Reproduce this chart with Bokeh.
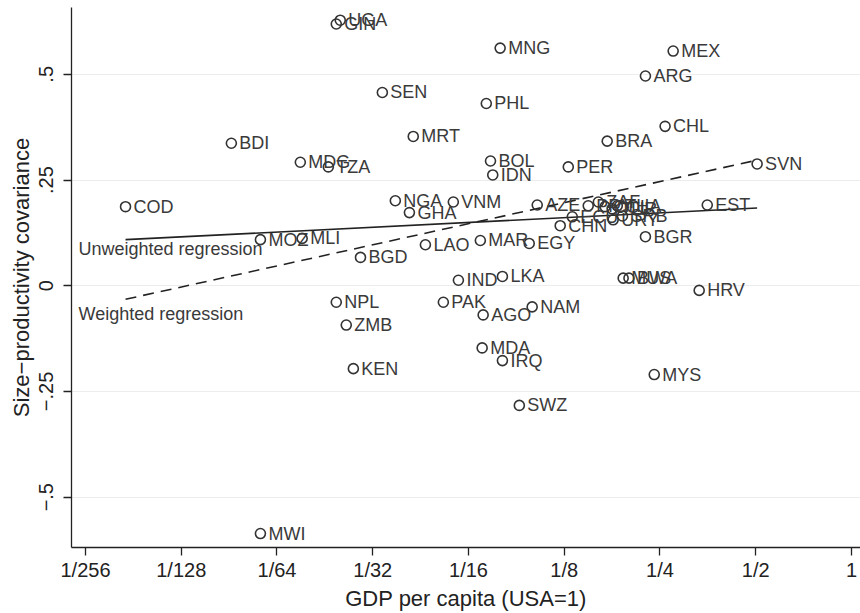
from bokeh.plotting import figure
from bokeh.models import FixedTicker, CustomJSTickFormatter, Label, ColumnDataSource, Range1d
from bokeh.core.properties import value
from bokeh.embed import file_html
from bokeh.resources import INLINE

codes = ["UGA", "GIN", "MNG", "MEX", "ARG", "SEN", "PHL", "CHL", "MRT", "BRA",
         "BDI", "MDG", "TZA", "BOL", "IDN", "PER", "SVN", "COD", "NGA", "VNM",
         "GHA", "AZE", "PRY", "ZAF", "COL", "TUR", "THA", "URY", "SRB", "ECU",
         "CHN", "EST", "MOZ", "MLI", "LAO", "MAR", "EGY", "BGR", "BGD", "IND",
         "LKA", "MUS", "BWA", "HRV", "NPL", "PAK", "NAM", "AGO", "ZMB", "MDA",
         "IRQ", "KEN", "MYS", "SWZ", "MWI"]
gdp = [0.0247, 0.0240, 0.0786, 0.275, 0.225, 0.0335, 0.0711, 0.2594, 0.0419, 0.1706,
       0.01123, 0.0185, 0.02266, 0.0733, 0.0745, 0.1287, 0.505, 0.00522, 0.0368, 0.0560,
       0.04075, 0.1028, 0.1487, 0.160, 0.168, 0.1768, 0.1835, 0.1781, 0.1905, 0.1325,
       0.1214, 0.352, 0.01386, 0.01875, 0.04575, 0.0681, 0.0970, 0.225, 0.0286, 0.0581,
       0.0799, 0.1915, 0.1997, 0.332, 0.0240, 0.0521, 0.0991, 0.0695, 0.0258, 0.0690,
       0.0799, 0.02716, 0.2398, 0.0903, 0.01386]
cov = [0.628, 0.619, 0.562, 0.555, 0.496, 0.457, 0.431, 0.377, 0.353, 0.342,
       0.337, 0.292, 0.281, 0.295, 0.262, 0.281, 0.288, 0.187, 0.201, 0.198,
       0.173, 0.191, 0.189, 0.198, 0.187, 0.182, 0.189, 0.156, 0.165, 0.163,
       0.142, 0.191, 0.109, 0.112, 0.097, 0.107, 0.100, 0.116, 0.067, 0.013,
       0.022, 0.018, 0.018, -0.011, -0.039, -0.039, -0.050, -0.069, -0.093, -0.147,
       -0.177, -0.196, -0.210, -0.283, -0.586]

# regression fitted values at the ends of the sample (COD, SVN)
reg_x = [0.00522, 0.505]
unweighted_y = [0.109, 0.184]
weighted_y = [-0.032, 0.297]

xtick_vals = [1/256, 1/128, 1/64, 1/32, 1/16, 1/8, 1/4, 1/2, 1]
xtick_labels = ["1/256", "1/128", "1/64", "1/32", "1/16", "1/8", "1/4", "1/2", "1"]
ytick_vals = [-0.5, -0.25, 0, 0.25, 0.5]
ytick_labels = ["\u2212.5", "\u2212.25", "0", ".25", ".5"]

FONT = "Liberation Sans"
TXT = "#3a3a3a"

p = figure(width=860, height=613, output_backend="svg", toolbar_location=None,
           x_axis_type="log",
           x_range=Range1d(2 ** -8.146, 2 ** 0.094),
           y_range=Range1d(-0.619, 0.658),
           min_border_left=71, min_border_right=0, min_border_top=7,
           min_border_bottom=62)
p.outline_line_color = None
p.background_fill_color = "white"
p.border_fill_color = "white"

p.xgrid.visible = False
p.ygrid.grid_line_color = "#ececec"
p.ygrid.grid_line_width = 1

fmt_code = """
let best = 0, bd = 1e9;
for (let i = 0; i < vals.length; i++) {
  const d = Math.abs(Math.log(vals[i] + 10) - Math.log(tick + 10));
  if (d < bd) { bd = d; best = i; }
}
return labs[best];
"""
p.xaxis.ticker = FixedTicker(ticks=xtick_vals, minor_ticks=[])
p.xaxis.formatter = CustomJSTickFormatter(args=dict(vals=xtick_vals, labs=xtick_labels), code=fmt_code)
p.yaxis.ticker = FixedTicker(ticks=ytick_vals, minor_ticks=[])
p.yaxis.formatter = CustomJSTickFormatter(args=dict(vals=ytick_vals, labs=ytick_labels), code=fmt_code)

for ax in (p.xaxis, p.yaxis):
    ax.axis_line_color = "#222222"
    ax.axis_line_width = 1.3
    ax.major_tick_line_color = "#222222"
    ax.major_tick_line_width = 1.3
    ax.major_tick_out = 8
    ax.major_tick_in = 0
    ax.minor_tick_out = 0
    ax.minor_tick_in = 0
    ax.major_label_text_font = FONT
    ax.major_label_text_font_size = "20px"
    ax.major_label_text_color = "#222222"
    ax.axis_label_text_font = FONT
    ax.axis_label_text_font_size = "22px"
    ax.axis_label_text_font_style = "normal"
    ax.axis_label_text_color = "#222222"

p.xaxis.axis_label = "GDP per capita (USA=1)"
p.xaxis.major_label_standoff = 3
p.xaxis.axis_label_standoff = 2
p.yaxis.axis_label = "Size\u2212productivity covariance"
p.yaxis.major_label_orientation = "vertical"
p.yaxis.major_label_standoff = 10
p.yaxis.axis_label_standoff = 3

src = ColumnDataSource(dict(gdp=gdp, cov=cov, code=codes))

p.line(reg_x, unweighted_y, line_color="#222222", line_width=1.6)
p.line(reg_x, weighted_y, line_color="#222222", line_width=1.6, line_dash="11 7")

p.scatter("gdp", "cov", source=src, marker="circle", size=10,
          fill_color=None, line_color="#333333", line_width=1.6)
p.text("gdp", "cov", text="code", source=src, x_offset=8,
       text_baseline="middle", text_align="left",
       text_font=value(FONT), text_font_size="18px", text_color=TXT)

p.add_layout(Label(x=2 ** -8.073, y=0.088, text="Unweighted regression",
                   text_baseline="middle", text_align="left",
                   text_font=FONT, text_font_size="18px", text_color=TXT))
p.add_layout(Label(x=2 ** -8.073, y=-0.067, text="Weighted regression",
                   text_baseline="middle", text_align="left",
                   text_font=FONT, text_font_size="18px", text_color=TXT))

open("out.html", "w").write(file_html(p, INLINE))
